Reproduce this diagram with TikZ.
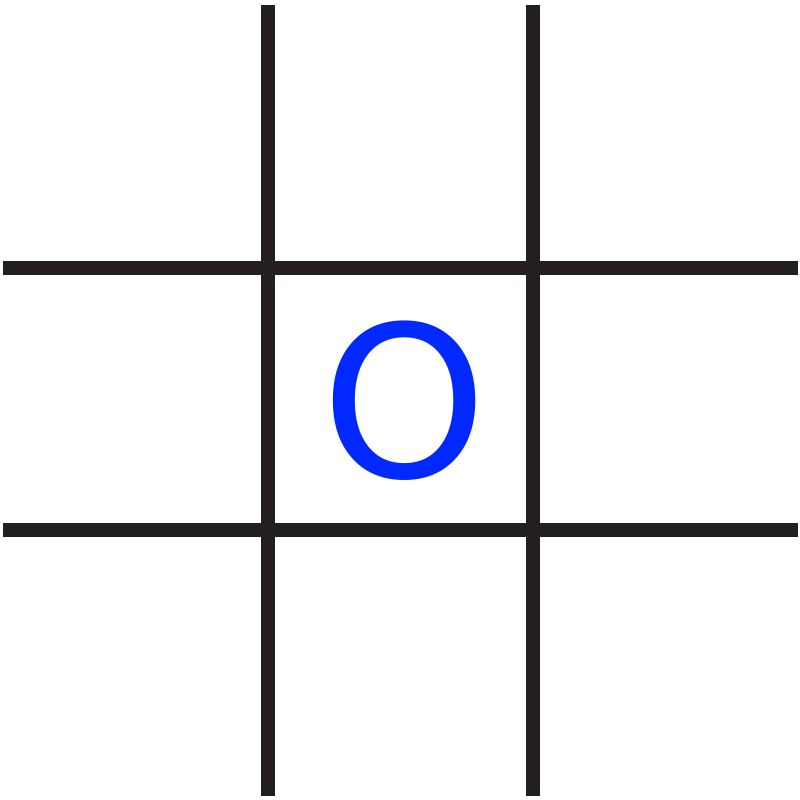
\documentclass[tikz,border=0pt]{standalone}
\usepackage{fontspec}
\newfontfamily\markfont{DejaVu Sans}
\definecolor{gridgray}{HTML}{231F20}
\definecolor{markblue}{HTML}{0028FF}

\begin{document}
\begin{tikzpicture}[x=0.01cm, y=-0.01cm, line cap=butt]
			\useasboundingbox (0,0) rectangle (800,800);
			\foreach \x\y\t in {268/5/Ta,268/796/Ba,533/5/Tb,533/796/Bb,3/268/La,798/268/Ra,3/530/Lb,798/530/Rb}
			\coordinate (\t) at (\x,\y);
			\draw[gridgray, line width=0.14cm] (Ta)--(Ba) (Tb)--(Bb) (La)--(Ra) (Lb)--(Rb);
			\node[markblue, font=\markfont\fontsize{60}{60}\selectfont, inner sep=0pt] (mark) at (405,401) {O};
		\end{tikzpicture}
\end{document}
